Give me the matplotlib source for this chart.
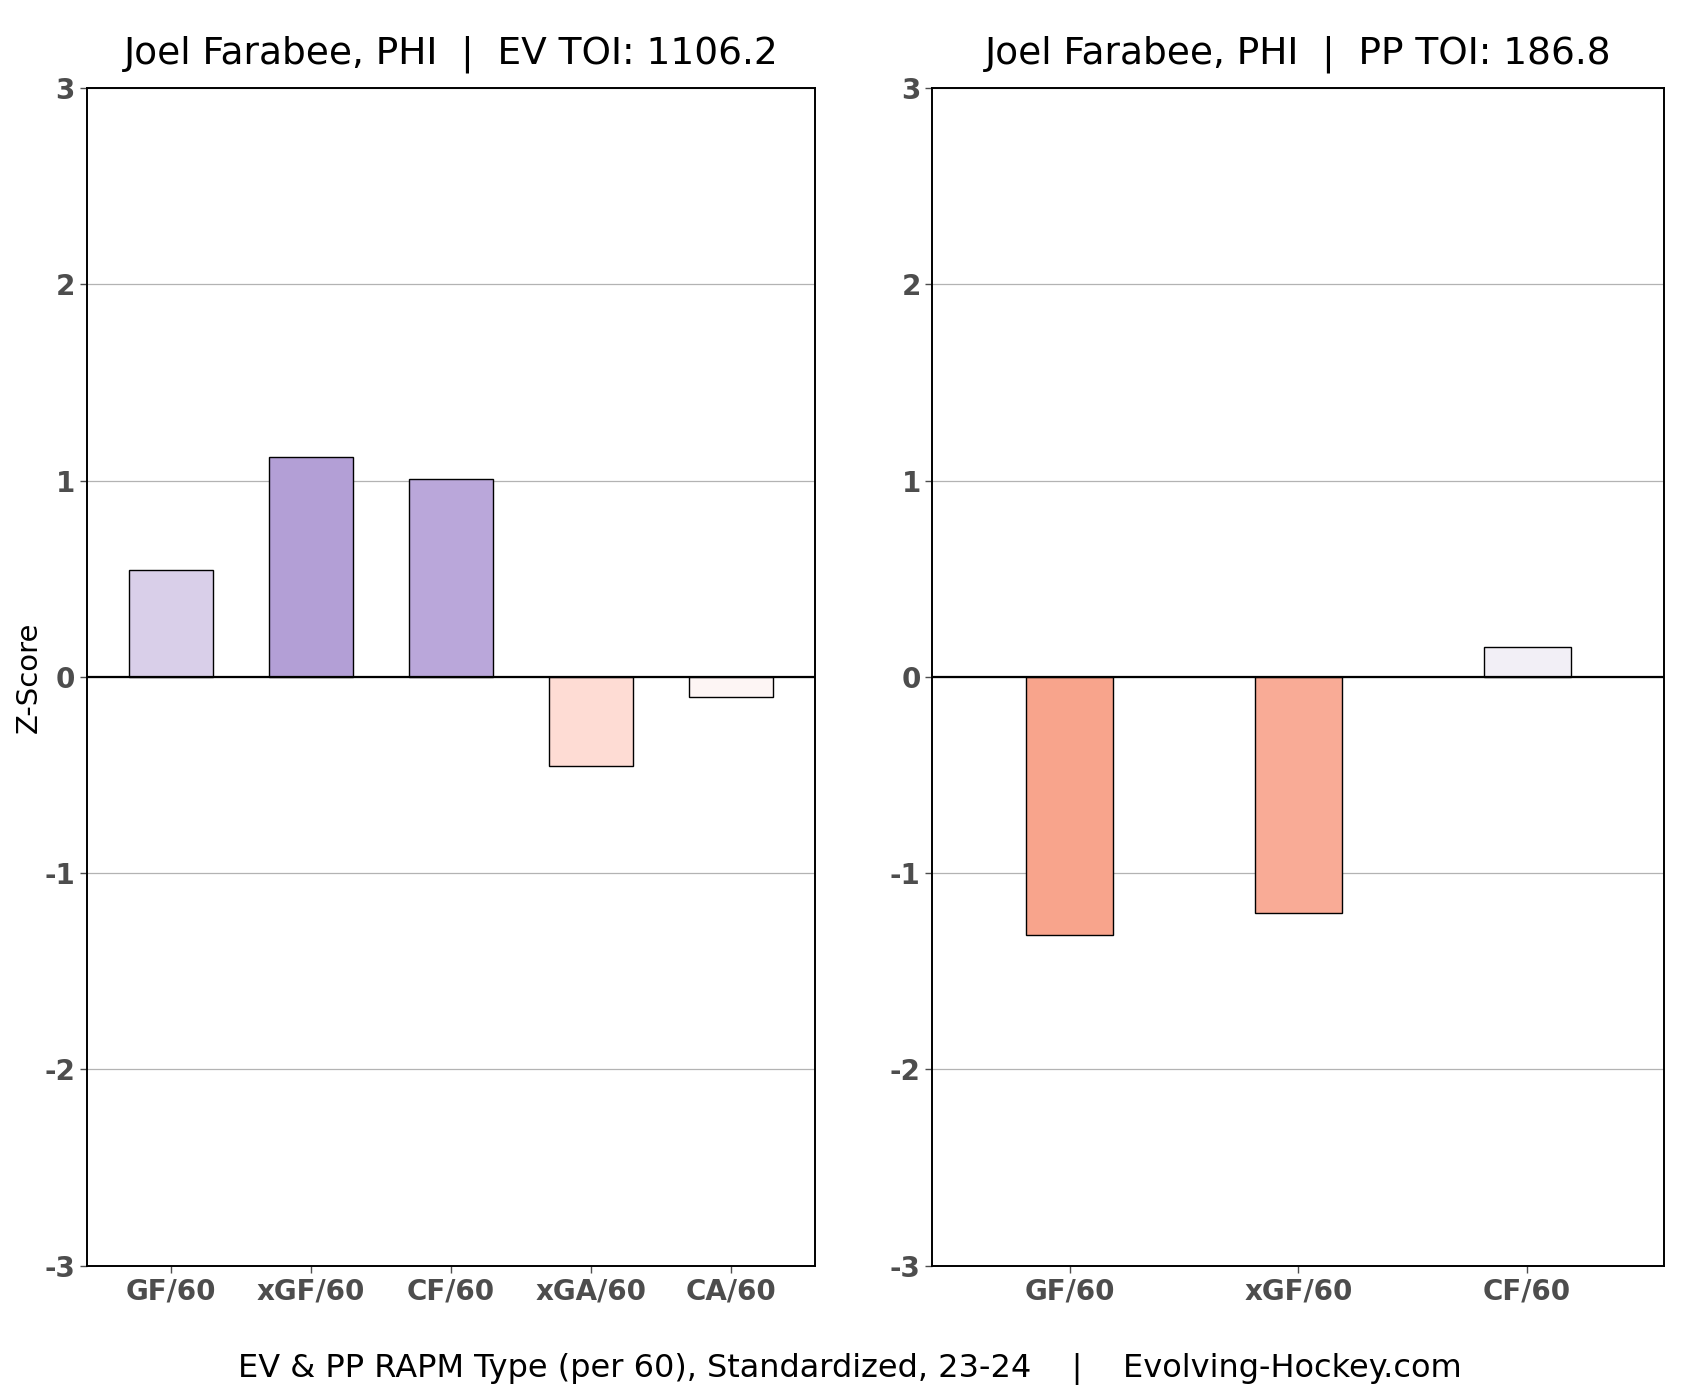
import matplotlib

matplotlib.use("Agg")
import matplotlib.pyplot as plt

# --- data ---
ev_labels = ["GF/60", "xGF/60", "CF/60", "xGA/60", "CA/60"]
ev_values = [0.544, 1.12, 1.01, -0.456, -0.104]
ev_colors = ["#d9cfe9", "#b39fd6", "#baa7da", "#fedcd4", "#fdf5f4"]

pp_labels = ["GF/60", "xGF/60", "CF/60"]
pp_values = [-1.315, -1.205, 0.152]
pp_colors = ["#f8a48c", "#f9ab96", "#f2eff6"]

ev_title = "Joel Farabee, PHI  |  EV TOI: 1106.2"
pp_title = "Joel Farabee, PHI  |  PP TOI: 186.8"
footer = "EV & PP RAPM Type (per 60), Standardized, 23-24    |    Evolving-Hockey.com"
yticks = [-3, -2, -1, 0, 1, 2, 3]

TICK_GREY = "#4d4d4d"

fig = plt.figure(figsize=(17, 14), dpi=100)
ax1 = fig.add_axes([0.051, 0.096, 0.4285, 0.841])
ax2 = fig.add_axes([0.5485, 0.096, 0.4305, 0.841])


def draw(ax, labels, values, colors, width, title):
    xs = list(range(len(labels)))
    ax.bar(xs, values, width=width, color=colors, edgecolor="black", linewidth=1.0, zorder=3)
    ax.axhline(0, color="black", lw=1.6, zorder=4)
    ax.set_ylim(-3, 3)
    ax.set_xlim(-0.6, len(labels) - 0.4)
    ax.set_yticks(yticks)
    ax.set_yticklabels([str(t) for t in yticks])
    ax.set_xticks(xs)
    ax.set_xticklabels(labels)
    ax.grid(True, axis="y", color="#b3b3b3", lw=0.9, zorder=0)
    ax.set_axisbelow(True)
    for s in ax.spines.values():
        s.set_color("black")
        s.set_linewidth(1.4)
    ax.tick_params(axis="both", colors=TICK_GREY, labelsize=20, length=5, width=1.0)
    for t in ax.get_xticklabels() + ax.get_yticklabels():
        t.set_fontweight("bold")
        t.set_color(TICK_GREY)
    ax.set_title(title, fontsize=27, pad=18)


draw(ax1, ev_labels, ev_values, ev_colors, 0.6, ev_title)
draw(ax2, pp_labels, pp_values, pp_colors, 0.38, pp_title)
ax1.set_ylabel("Z-Score", fontsize=21, labelpad=1)

fig.text(0.5, 0.022, footer, ha="center", va="center", fontsize=23)

fig.savefig("out.png", dpi=100)
